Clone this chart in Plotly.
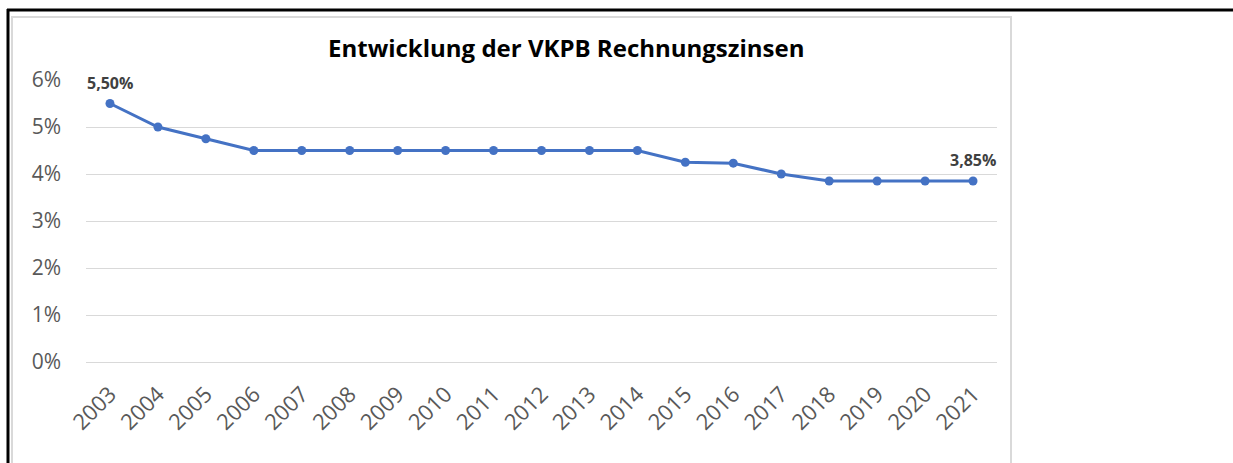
import plotly.graph_objects as go

years = ["2003", "2004", "2005", "2006", "2007", "2008", "2009", "2010", "2011", "2012",
         "2013", "2014", "2015", "2016", "2017", "2018", "2019", "2020", "2021"]
rates = [5.50, 5.00, 4.75, 4.50, 4.50, 4.50, 4.50, 4.50, 4.50, 4.50,
         4.50, 4.50, 4.25, 4.23, 4.00, 3.85, 3.85, 3.85, 3.85]
labelled = {0: "5,50%", 18: "3,85%"}
y_ticks = [0, 1, 2, 3, 4, 5, 6]
y_tick_text = ["0%", "1%", "2%", "3%", "4%", "5%", "6%"]
title = "Entwicklung der VKPB Rechnungszinsen"

W, H = 1233, 463
FONT = "Open Sans, Lato, sans-serif"

def px(x):
    return x / W

def py(y):
    return 1 - y / H

fig = go.Figure()
fig.add_trace(go.Scatter(
    x=years, y=rates, mode="lines+markers",
    line=dict(color="#4472C4", width=3),
    marker=dict(color="#4472C4", size=9),
    cliponaxis=False, hoverinfo="x+y", showlegend=False,
))

annotations = [dict(
    text="<b>" + title + "</b>", x=px(566), y=py(47),
    xref="paper", yref="paper", xanchor="center", yanchor="middle",
    showarrow=False, font=dict(family=FONT, size=24, color="#000000"),
)]
for i, t in labelled.items():
    annotations.append(dict(
        text="<b>" + t + "</b>", x=i, y=rates[i], xref="x", yref="y",
        xanchor="center", yanchor="middle", yshift=21, showarrow=False,
        font=dict(family=FONT, size=16, color="#404040"),
    ))

fig.update_layout(
    width=W, height=H,
    margin=dict(l=0, r=0, t=0, b=0),
    paper_bgcolor="white", plot_bgcolor="white",
    font=dict(family=FONT, color="#595959"),
    xaxis=dict(
        domain=[px(86), px(997)], type="category",
        range=[-0.5, len(years) - 0.5],
        showgrid=False, showline=False, zeroline=False, ticks="",
        tickangle=-45, tickfont=dict(size=22, color="#595959"),
        ticklabelstandoff=14,
        automargin=False,
    ),
    yaxis=dict(
        domain=[py(362), py(80)], range=[0, 6],
        tickvals=y_ticks, ticktext=y_tick_text,
        showgrid=True, gridcolor="#D9D9D9", gridwidth=1,
        zeroline=True, zerolinecolor="#D9D9D9", zerolinewidth=1,
        showline=False, ticks="", ticklabelstandoff=24,
        tickfont=dict(size=21, color="#595959"),
        automargin=False,
    ),
    annotations=annotations,
    shapes=[
        dict(type="rect", xref="paper", yref="paper",
             x0=px(12), x1=px(1011), y0=py(470), y1=py(17),
             line=dict(color="#D9D9D9", width=2), fillcolor="rgba(0,0,0,0)"),
        dict(type="line", xref="paper", yref="paper",
             x0=px(7), x1=px(1240), y0=py(10), y1=py(10),
             line=dict(color="#000000", width=3)),
        dict(type="line", xref="paper", yref="paper",
             x0=px(8), x1=px(8), y0=py(9), y1=py(470),
             line=dict(color="#000000", width=3)),
    ],
)

fig.write_html(
    "out.html",
    config={"displayModeBar": False},
    post_script="document.body.style.margin='0';document.body.style.overflow='hidden';",
)
